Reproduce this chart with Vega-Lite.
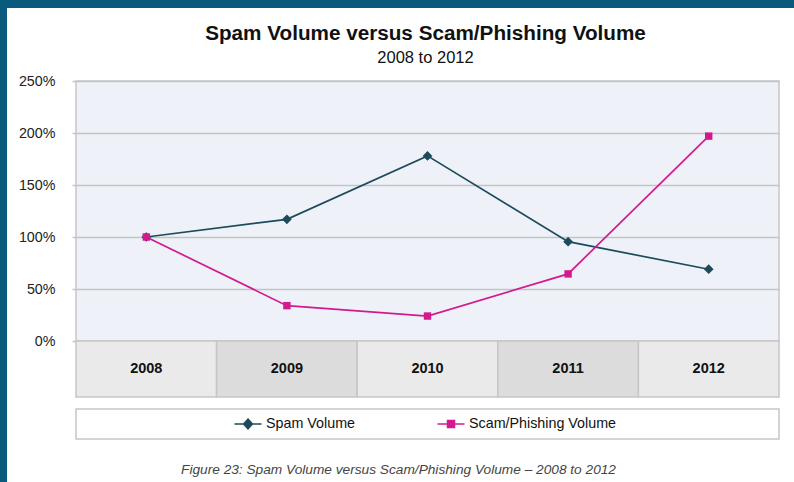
{
  "$schema": "https://vega.github.io/schema/vega-lite/v6.json",
  "background": "white",
  "padding": 0,
  "config": {"font": "Liberation Sans", "view": {"stroke": null}},
  "spacing": 0,
  "vconcat": [
    {
      "width": 794, "height": 8,
      "view": {"fill": "#0a5a7e", "stroke": null},
      "data": {"values": []},
      "mark": "rect",
      "encoding": {}
    },
    {
      "spacing": 0,
      "hconcat": [
        {
          "width": 7, "height": 474,
          "view": {"fill": "#0a5a7e", "stroke": null},
          "data": {"values": []},
          "mark": "rect",
          "encoding": {}
        },
        {
          "spacing": 13,
          "vconcat": [
            {
              "width": 703, "height": 1,
              "view": {"fill": "white", "stroke": null},
              "data": {"values": []},
              "mark": "rect",
              "encoding": {}
            },
            {
              "spacing": 10,
              "vconcat": [
                {
                  "spacing": 0,
                  "bounds": "flush",
                  "vconcat": [
                    {
                      "width": 703, "height": 260,
                      "title": {
                        "text": "Spam Volume versus Scam/Phishing Volume",
                        "subtitle": "2008 to 2012",
                        "fontSize": 20.7, "fontWeight": "bold", "color": "#111",
                        "subtitleFontSize": 16.5, "subtitleColor": "#111",
                        "subtitlePadding": 5, "anchor": "middle", "offset": 7, "dx": -2
                      },
                      "view": {"fill": "#eef2f8", "stroke": "#c6c6c6", "strokeWidth": 1.5},
                      "data": {"values": [
                        {"year": "2008", "series": "Spam Volume", "pct": 100},
                        {"year": "2009", "series": "Spam Volume", "pct": 117},
                        {"year": "2010", "series": "Spam Volume", "pct": 178},
                        {"year": "2011", "series": "Spam Volume", "pct": 95.5},
                        {"year": "2012", "series": "Spam Volume", "pct": 69},
                        {"year": "2008", "series": "Scam/Phishing Volume", "pct": 100},
                        {"year": "2009", "series": "Scam/Phishing Volume", "pct": 34},
                        {"year": "2010", "series": "Scam/Phishing Volume", "pct": 24},
                        {"year": "2011", "series": "Scam/Phishing Volume", "pct": 64.5},
                        {"year": "2012", "series": "Scam/Phishing Volume", "pct": 197}
                      ]},
                      "encoding": {
                        "x": {"field": "year", "type": "ordinal", "axis": null, "scale": {"type": "point", "padding": 0.5}},
                        "y": {
                          "field": "pct", "type": "quantitative",
                          "scale": {"domain": [0, 250], "nice": false},
                          "axis": {
                            "values": [0, 50, 100, 150, 200, 250],
                            "labelExpr": "datum.value + '%'",
                            "title": null, "grid": true, "gridColor": "#c4c4c4", "gridWidth": 1.5,
                            "domain": false, "tickSize": 4, "tickColor": "#c4c4c4", "tickWidth": 1.5,
                            "labelPadding": 17, "labelFontSize": 14.3, "labelColor": "#222",
                            "minExtent": 68, "maxExtent": 68
                          }
                        },
                        "color": {
                          "field": "series", "type": "nominal",
                          "scale": {"domain": ["Spam Volume", "Scam/Phishing Volume"], "range": ["#1d4b5b", "#d21a8e"]},
                          "legend": null
                        }
                      },
                      "layer": [
                        {"mark": {"type": "line", "strokeWidth": 1.7}},
                        {
                          "mark": {"type": "point", "filled": true, "opacity": 1},
                          "encoding": {
                            "shape": {"field": "series", "type": "nominal", "scale": {"domain": ["Spam Volume", "Scam/Phishing Volume"], "range": ["diamond", "square"]}, "legend": null},
                            "size": {"field": "series", "type": "nominal", "scale": {"domain": ["Spam Volume", "Scam/Phishing Volume"], "range": [95, 55]}, "legend": null}
                          }
                        }
                      ]
                    },
                    {
                      "width": 703, "height": 56,
                      "data": {"values": [
                        {"year": "2008"}, {"year": "2009"}, {"year": "2010"}, {"year": "2011"}, {"year": "2012"}
                      ]},
                      "encoding": {
                        "x": {"field": "year", "type": "ordinal", "axis": null, "scale": {"type": "band", "paddingInner": 0, "paddingOuter": 0}}
                      },
                      "layer": [
                        {
                          "mark": {"type": "rect", "stroke": "#c6c6c6", "strokeWidth": 1.5},
                          "encoding": {
                            "fill": {"condition": {"test": "datum.year === '2009' || datum.year === '2011'", "value": "#dcdcdd"}, "value": "#eaeaeb"}
                          }
                        },
                        {
                          "mark": {"type": "text", "fontSize": 14.5, "fontWeight": "bold", "color": "#111", "baseline": "middle"},
                          "encoding": {"text": {"field": "year"}}
                        }
                      ]
                    }
                  ]
                },
                {
                  "width": 703, "height": 30,
                  "view": {"fill": "white", "stroke": "#c6c6c6", "strokeWidth": 1.5},
                  "title": {
                    "text": "Figure 23: Spam Volume versus Scam/Phishing Volume – 2008 to 2012",
                    "orient": "bottom", "anchor": "middle", "fontSize": 13.7, "fontStyle": "italic",
                    "fontWeight": "normal", "color": "#444", "offset": 24, "dx": -29
                  },
                  "data": {"values": [{"series": "Spam Volume"}, {"series": "Scam/Phishing Volume"}]},
                  "encoding": {
                    "x": {"field": "series", "type": "nominal", "axis": null, "scale": {"type": "point", "padding": 0, "domain": ["Spam Volume", "Scam/Phishing Volume"], "range": [172, 375]}}
                  },
                  "layer": [
                    {
                      "mark": {"type": "point", "filled": true, "opacity": 1, "size": 729, "strokeWidth": 1.5},
                      "encoding": {
                        "color": {"field": "series", "type": "nominal", "legend": null},
                        "stroke": {"field": "series", "type": "nominal", "scale": {"domain": ["Spam Volume", "Scam/Phishing Volume"], "range": ["#1d4b5b", "#d21a8e"]}, "legend": null},
                        "shape": {
                          "condition": {"test": "datum.series === 'Spam Volume'", "value": "M-1,0H1M0,-0.37L0.33,0L0,0.37L-0.33,0Z"},
                          "value": "M-1,0H1M-0.26,-0.26H0.26V0.26H-0.26Z"
                        }
                      }
                    },
                    {
                      "mark": {"type": "text", "align": "left", "baseline": "middle", "dx": 18, "fontSize": 14.3, "color": "#111"},
                      "encoding": {"text": {"field": "series"}}
                    }
                  ]
                }
              ]
            }
          ]
        }
      ]
    }
  ]
}
